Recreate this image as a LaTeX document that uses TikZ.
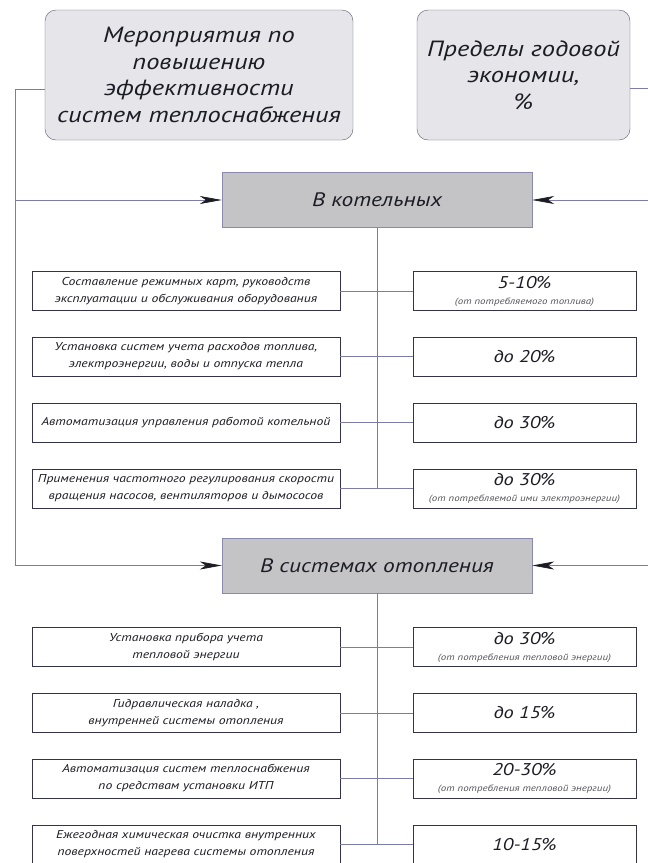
\documentclass[tikz,border=0pt]{standalone}
\usepackage{fontspec}
\setmainfont{PT Sans}[ItalicFeatures={FakeStretch=1.2}]
\usetikzlibrary{arrows.meta}

\definecolor{linkcol}{HTML}{7C7CA8}
\definecolor{edgecol}{HTML}{33334D}
\definecolor{headfill}{HTML}{E5E5EA}
\definecolor{secfill}{HTML}{C4C4C7}
\definecolor{secedge}{HTML}{8A8AB0}
\definecolor{inkcol}{HTML}{1C1C24}

\tikzset{
  headbox/.style={draw=edgecol!80, fill=headfill, rounded corners=11pt, align=center,
    minimum height=130pt, inner sep=0pt, text=inkcol, font=\fontsize{22}{26.5}\selectfont\itshape},
  secbox/.style={draw=secedge, fill=secfill, minimum width=310pt, minimum height=55pt,
    text=inkcol, font=\fontsize{19.5}{24}\selectfont\itshape},
  itembox/.style={draw=edgecol, fill=white, minimum width=308pt, minimum height=39pt,
    inner sep=0pt, align=center, text=inkcol, font=\fontsize{11.4}{17}\selectfont\itshape},
  valbox/.style={itembox, minimum width=223pt, font=\fontsize{17}{17}\selectfont\itshape},
  link/.style={draw=linkcol, line width=0.7pt},
  feed/.style={link, -{Stealth[length=22pt,width=8pt,inset=6pt,color=inkcol]}},
}
\newcommand{\valnote}[1]{\\[-1pt]{\fontsize{9.1}{10}\selectfont\color{inkcol!75}#1}}

\begin{document}
\begin{tikzpicture}[x=1pt,y=-1pt]
    \useasboundingbox (0,0) rectangle (648,863);

    % --- headings ---
    \node[headbox, minimum width=308pt] (head1) at (199,75)
        {Мероприятия по\\повышению\\эффективности\\систем теплоснабжения};
    \node[headbox, minimum width=213pt] (head2) at (523.5,75)
        {Пределы годовой\\экономии,\\\%};

    % --- sections ---
    \node[secbox] (kot) at (377,200) {В котельных};
    \node[secbox] (sys) at (377,565.5) {В системах отопления};

    % --- measures (left) ---
    \node[itembox] (l1) at (186,291)
        {Составление режимных карт, руководств\\эксплуатации и обслуживания оборудования};
    \node[itembox] (l2) at (186,356.5)
        {Установка систем учета расходов топлива,\\электроэнергии, воды и отпуска тепла};
    \node[itembox] (l3) at (186,422.5)
        {Автоматизация управления работой котельной};
    \node[itembox] (l4) at (186,488.5)
        {Применения частотного регулирования скорости\\вращения насосов, вентиляторов и дымососов};
    \node[itembox] (l5) at (186,647)
        {Установка прибора учета\\тепловой энергии};
    \node[itembox] (l6) at (186,713)
        {Гидравлическая наладка ,\\внутренней системы отопления};
    \node[itembox] (l7) at (186,778.5)
        {Автоматизация систем теплоснабжения\\по средствам установки ИТП};
    \node[itembox] (l8) at (186,844.5)
        {Ежегодная химическая очистка внутренних\\поверхностей нагрева системы отопления};

    % --- savings (right) ---
    \node[valbox] (r1) at (524.5,291) {5-10\%\valnote{(от потребляемого топлива)}};
    \node[valbox] (r2) at (524.5,356.5) {до 20\%};
    \node[valbox] (r3) at (524.5,422.5) {до 30\%};
    \node[valbox] (r4) at (524.5,488.5) {до 30\%\valnote{(от потребляемой ими электроэнергии)}};
    \node[valbox] (r5) at (524.5,647) {до 30\%\valnote{(от потребления тепловой энергии)}};
    \node[valbox] (r6) at (524.5,713) {до 15\%};
    \node[valbox] (r7) at (524.5,778.5) {20-30\%\valnote{(от потребления тепловой энергии)}};
    \node[valbox] (r8) at (524.5,844.5) {10-15\%};

    % --- side trunks ---
    \coordinate (lt) at (15,89);
    \coordinate (rt) at (648,88);
    \draw[link] (head1.west |- lt) -- (lt) -- (lt |- sys.west);
    \draw[feed] (lt |- kot.west) -- (kot.west);
    \draw[feed] (lt |- sys.west) -- (sys.west);
    \draw[link] (head2.east |- rt) -- (rt);
    \draw[feed] (rt |- kot.east) -- (kot.east);
    \draw[feed] (rt |- sys.east) -- (sys.east);

    % --- centre spines and rows ---
    \draw[link] (kot.south) -- (kot.south |- l4.east);
    \draw[link] (sys.south) -- (sys.south |- l8.east);
    \foreach \i in {1,...,8} {
        \draw[link] (l\i.east) -- (r\i.west);
    }
\end{tikzpicture}
\end{document}
